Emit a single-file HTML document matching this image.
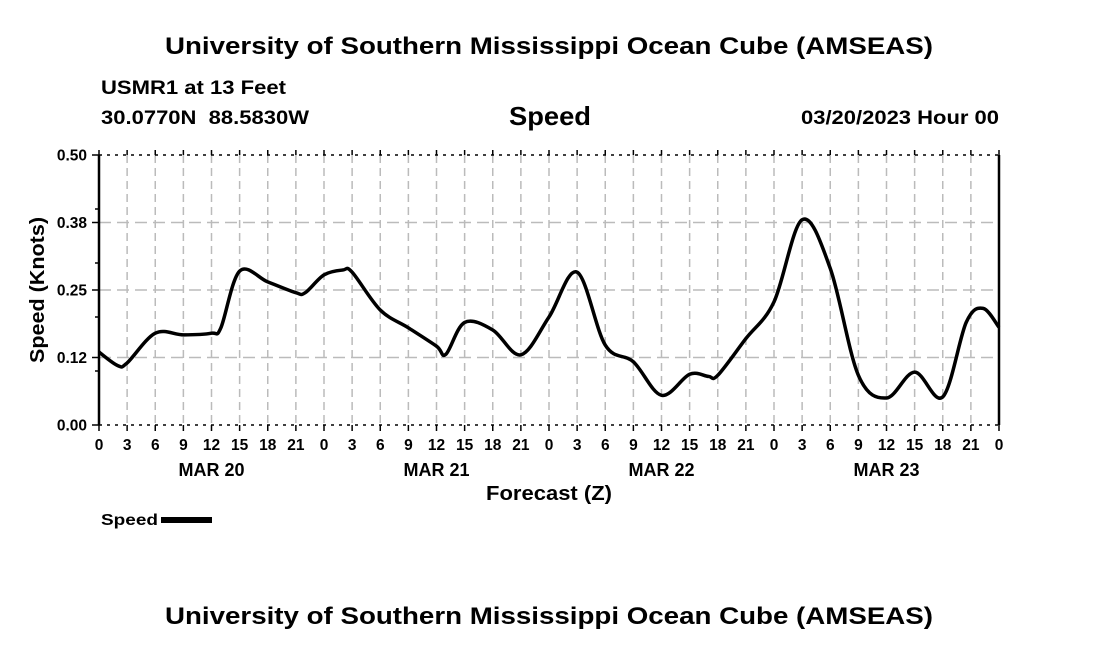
<!DOCTYPE html>
<html><head><meta charset="utf-8"><style>
html,body{margin:0;padding:0;background:#fff;width:1100px;height:650px;overflow:hidden}
text{font-family:"Liberation Sans",Arial,sans-serif;font-weight:bold;fill:#000}
</style></head><body>
<svg id="chart" width="1100" height="650" viewBox="0 0 1100 650" xmlns="http://www.w3.org/2000/svg">
<text x="165" y="54" font-size="24" textLength="768" lengthAdjust="spacingAndGlyphs">University of Southern Mississippi Ocean Cube (AMSEAS)</text>
<text x="101" y="94" font-size="19" textLength="185" lengthAdjust="spacingAndGlyphs">USMR1 at 13 Feet</text>
<text x="101" y="124" font-size="19" textLength="208" lengthAdjust="spacingAndGlyphs" xml:space="preserve">30.0770N  88.5830W</text>
<text x="509" y="125" font-size="26" textLength="82" lengthAdjust="spacingAndGlyphs">Speed</text>
<text x="801" y="124" font-size="19" textLength="198" lengthAdjust="spacingAndGlyphs">03/20/2023 Hour 00</text>
<g id="grid"></g>
<g id="axes"></g>
<path id="line" fill="none" stroke="#000" stroke-width="3.5" stroke-linejoin="round"/>
<text transform="translate(44,290) rotate(-90)" text-anchor="middle" font-size="20" textLength="146" lengthAdjust="spacingAndGlyphs">Speed (Knots)</text>
<text x="549" y="500" text-anchor="middle" font-size="20" textLength="126" lengthAdjust="spacingAndGlyphs">Forecast (Z)</text>
<g>
<text x="101" y="525" font-size="16" textLength="57" lengthAdjust="spacingAndGlyphs">Speed</text>
<rect x="161" y="517" width="51" height="6" fill="#000"/>
</g>
<text x="165" y="624" font-size="24" textLength="768" lengthAdjust="spacingAndGlyphs">University of Southern Mississippi Ocean Cube (AMSEAS)</text>
</svg>
<script>
const hours=[0,2,3,6,9,12,13,15,18,21,22,24,26,27,30,33,36,37,39,42,45,48,51,54,57,60,63,65,66,69,72,75,78,81,84,87,90,92.5,94.3,96];
const speeds=[0.135,0.11,0.115,0.17,0.167,0.17,0.18,0.285,0.265,0.245,0.245,0.278,0.287,0.283,0.213,0.18,0.146,0.131,0.19,0.176,0.13,0.2,0.283,0.148,0.117,0.055,0.094,0.09,0.092,0.16,0.228,0.38,0.29,0.092,0.05,0.098,0.052,0.19,0.216,0.181];
const yTicks=[0,0.125,0.25,0.375,0.5];
const yTickLabels=["0.00","0.12","0.25","0.38","0.50"];
const yMinor=[0.1,0.2,0.3,0.4];
const xTickLabels=["0","3","6","9","12","15","18","21"];
const dayLabels=["MAR 20","MAR 21","MAR 22","MAR 23"];
const X0=99,X1=999,Y0=425,Y1=155,HMAX=96,VMAX=0.5;
const xs=h=>X0+(X1-X0)*h/HMAX;
const ys=v=>Y0-(Y0-Y1)*v/VMAX;
const NS="http://www.w3.org/2000/svg";
const grid=document.getElementById('grid'),axes=document.getElementById('axes');
function mk(tag,at,parent){const e=document.createElementNS(NS,tag);for(const k in at)e.setAttribute(k,at[k]);parent.appendChild(e);return e;}
for(let h=0;h<=HMAX;h+=3){
  const x=xs(h);
  if(h>0&&h<HMAX){const g=mk('line',{x1:x,x2:x,y1:Y1,y2:Y0,stroke:'#bbb','stroke-width':1.5,'stroke-dasharray':'8,5'},grid);
  
  }
  const t=mk('line',{x1:x,x2:x,y1:Y0,y2:Y0+6,stroke:'#000','stroke-width':1.5},axes);
  
  
  const t2=mk('line',{x1:x,x2:x,y1:Y1-5,y2:Y1,stroke:'#000','stroke-width':1.5},axes);
  
  
  const lab=(h===HMAX)?"0":xTickLabels[(h/3)%8];
  const tx=mk('text',{x:x,y:450,'text-anchor':'middle','font-size':15.5},axes);
  tx.textContent=lab;
  
  
}
dayLabels.forEach((d,i)=>{const t=mk('text',{x:xs(i*24+12),y:476,'text-anchor':'middle','font-size':18},axes);t.textContent=d;

});
yTicks.forEach((v,i)=>{const y=ys(v);
  if(v>0&&v<VMAX){const g=mk('line',{x1:X0,x2:X1,y1:y,y2:y,stroke:'#bbb','stroke-width':1.5,'stroke-dasharray':'12,6'},grid);
  
  }
  const t=mk('line',{x1:X0-7,x2:X0,y1:y,y2:y,stroke:'#000','stroke-width':1.5},axes);
  
  
  const tx=mk('text',{x:87,y:y+5.5,'text-anchor':'end','font-size':15.5},axes);tx.textContent=yTickLabels[i];
  
  });
yMinor.forEach(v=>{const t=mk('line',{x1:X0-4,x2:X0,y1:ys(v),y2:ys(v),stroke:'#000','stroke-width':1.5},axes);

});
[[X0,Y1,X1,Y1],[X0,Y0,X1,Y0]].forEach(a=>{const l=mk('line',{x1:a[0],y1:a[1],x2:a[2],y2:a[3],stroke:'#000','stroke-width':1.5,'stroke-dasharray':'3,5'},axes);

});
[[X0,Y1,X0,Y0],[X1,Y1,X1,Y0]].forEach(a=>{const l=mk('line',{x1:a[0],y1:a[1],x2:a[2],y2:a[3],stroke:'#000','stroke-width':2.5},axes);

});
const P=hours.map((h,i)=>[xs(h),ys(speeds[i])]);
let d=`M${P[0][0]},${P[0][1]}`;
for(let i=0;i<P.length-1;i++){const p0=P[i-1]||P[i],p1=P[i],p2=P[i+1],p3=P[i+2]||P[i+1];
  const c1=[p1[0]+(p2[0]-p0[0])/6,p1[1]+(p2[1]-p0[1])/6],c2=[p2[0]-(p3[0]-p1[0])/6,p2[1]-(p3[1]-p1[1])/6];
  d+=` C${c1[0]},${c1[1]} ${c2[0]},${c2[1]} ${p2[0]},${p2[1]}`;}
document.getElementById('line').setAttribute('d',d);
</script>
</body></html>
